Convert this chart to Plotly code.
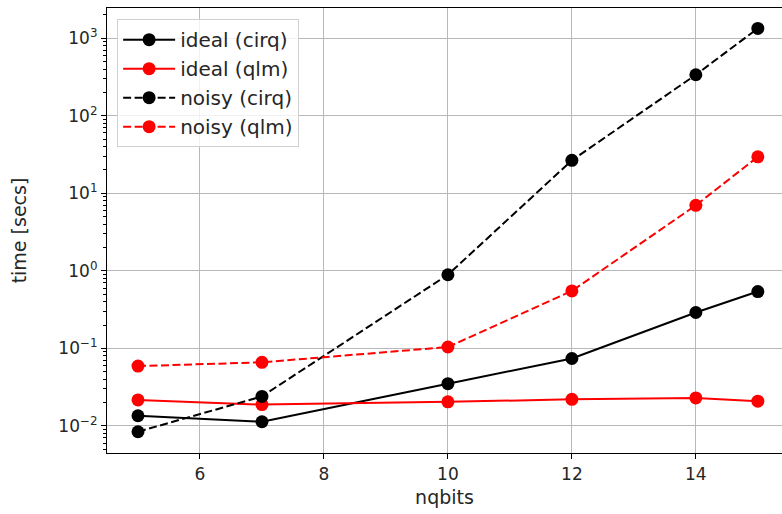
import plotly.graph_objects as go

nqbits = [5, 7, 10, 12, 14, 15]
ideal_cirq = [0.0135, 0.0113, 0.035, 0.074, 0.29, 0.54]
ideal_qlm = [0.0216, 0.0188, 0.0204, 0.022, 0.0229, 0.0208]
noisy_cirq = [0.0084, 0.024, 0.89, 26.6, 338, 1340]
noisy_qlm = [0.059, 0.066, 0.104, 0.55, 7.0, 29.5]

ytick_vals = [1e-2, 1e-1, 1e0, 1e1, 1e2, 1e3]
ytick_text = ["10<sup>−2</sup>", "10<sup>−1</sup>", "10<sup>0</sup>",
              "10<sup>1</sup>", "10<sup>2</sup>", "10<sup>3</sup>"]
xtick_vals = [6, 8, 10, 12, 14]

minor_vals = [k * 10 ** e for e in range(-3, 4) for k in range(2, 10)]

series = [
    ("ideal (cirq)", ideal_cirq, "black", "solid"),
    ("ideal (qlm)", ideal_qlm, "#ff0000", "solid"),
    ("noisy (cirq)", noisy_cirq, "black", "8px,3.5px"),
    ("noisy (qlm)", noisy_qlm, "#ff0000", "8px,3.5px"),
]

fig = go.Figure()
for name, vals, color, dash in series:
    fig.add_trace(go.Scatter(
        x=nqbits, y=vals, name=name, mode="lines+markers",
        line=dict(color=color, width=2, dash=dash),
        marker=dict(color=color, size=13, symbol="circle"),
    ))

font = dict(family="DejaVu Sans", size=16, color="#262626")

fig.update_layout(
    width=782, height=514,
    margin=dict(l=107, r=0, t=8, b=61),
    paper_bgcolor="white", plot_bgcolor="white",
    font=font,
    showlegend=True,
    legend=dict(x=0.015, y=0.975, xanchor="left", yanchor="top",
                bgcolor="rgba(255,255,255,0.8)", bordercolor="#d0d0d0",
                borderwidth=1, font=dict(family="DejaVu Sans", size=20, color="#262626"),
                tracegroupgap=0, itemwidth=52),
    xaxis=dict(
        range=[4.5, 15.39], tickvals=xtick_vals,
        showgrid=True, gridcolor="#b8b8b8", gridwidth=1,
        showline=True, linecolor="black", linewidth=1.2, mirror=True,
        ticks="outside", ticklen=5, tickcolor="black", zeroline=False,
        tickfont=dict(size=17),
        title=dict(text="nqbits", standoff=8),
    ),
    yaxis=dict(
        type="log", range=[-2.35, 3.39],
        tickvals=ytick_vals, ticktext=ytick_text,
        showgrid=True, gridcolor="#b8b8b8", gridwidth=1,
        showline=True, linecolor="black", linewidth=1.2, mirror=False,
        ticks="outside", ticklen=5, tickcolor="black", zeroline=False,
        tickfont=dict(size=17),
        minor=dict(tickvals=minor_vals, ticks="outside", ticklen=3,
                   tickcolor="black", showgrid=False),
        title=dict(text="time [secs]", standoff=26),
    ),
)

fig.write_html("out.html")
